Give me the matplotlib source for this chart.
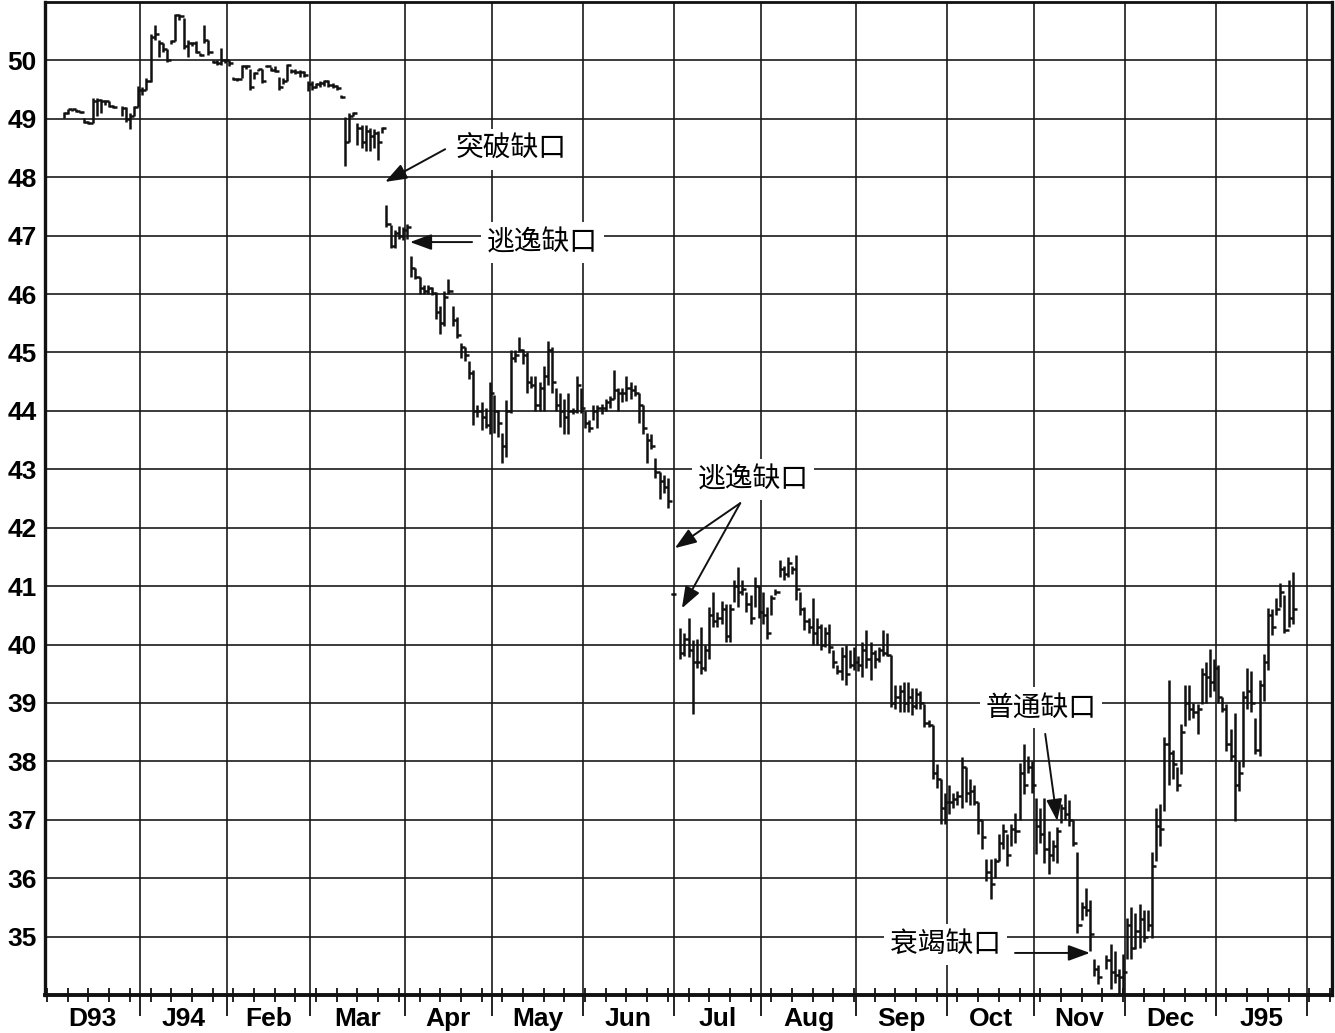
import matplotlib
matplotlib.use('Agg')
import matplotlib.pyplot as plt
import matplotlib.transforms as mtransforms
import numpy as np
import pandas as pd

plt.rcParams['font.family'] = ['Liberation Sans', 'DejaVu Sans']

# ---------------- data: daily (high, low, close) per weekday, None = no bar -------------
month_labels = ['D93', 'J94', 'Feb', 'Mar', 'Apr', 'May', 'Jun',
                'Jul', 'Aug', 'Sep', 'Oct', 'Nov', 'Dec', 'J95']
y_ticks = list(range(35, 51))

bars_dec93 = [None, None, None, None,
    (49.12, 49.02, 49.10), (49.17, 49.08, 49.16), (49.17, 49.14, 49.16), (49.17, 49.12, 49.13),
    (49.14, 49.10, 49.12), (49.02, 48.92, 48.94), (48.96, 48.91, 48.93), (49.35, 48.93, 49.30),
    (49.36, 49.05, 49.32), (49.34, 49.10, 49.30), (49.33, 49.24, 49.30), (49.30, 49.20, 49.22),
    (49.24, 49.18, 49.20), None, (49.22, 49.05, 49.18), (49.20, 48.95, 49.00),
    (49.10, 48.83, 49.05), (49.22, 49.05, 49.20), (49.57, 49.20, 49.50)]
bars_jan94 = [
    (49.55, 49.40, 49.50), (49.70, 49.50, 49.65), (50.46, 49.63, 50.40), (50.60, 50.35, 50.45),
    (50.35, 50.05, 50.30), (50.30, 50.15, 50.20), (50.20, 49.98, 50.00), (50.35, 50.28, 50.33),
    (50.80, 50.34, 50.78), (50.80, 50.70, 50.76), (50.72, 50.20, 50.25), (50.35, 50.05, 50.30),
    (50.32, 50.25, 50.30), (50.34, 50.12, 50.14), (50.12, 50.08, 50.10), (50.60, 50.30, 50.35),
    (50.35, 50.10, 50.15), (50.00, 49.95, 49.98), (50.00, 49.92, 49.95), (50.22, 49.92, 50.00),
    (50.02, 49.95, 50.00)]
bars_feb94 = [
    (50.00, 49.90, 49.95), (49.72, 49.66, 49.68), (49.70, 49.64, 49.68), (49.93, 49.70, 49.90),
    (49.92, 49.85, 49.90), (49.85, 49.50, 49.55), (49.80, 49.68, 49.78), (49.86, 49.82, 49.85),
    (49.85, 49.62, 49.65), (49.93, 49.88, 49.90), (49.88, 49.82, 49.84), (49.90, 49.80, 49.82),
    (49.72, 49.50, 49.55), (49.70, 49.60, 49.65), (49.94, 49.65, 49.92), (49.86, 49.78, 49.82),
    (49.85, 49.76, 49.80), (49.84, 49.72, 49.80), (49.82, 49.72, 49.75), (49.65, 49.48, 49.60)]
bars_mar94 = [
    (49.65, 49.50, 49.55), (49.62, 49.52, 49.60), (49.65, 49.55, 49.62), (49.66, 49.56, 49.64),
    (49.66, 49.55, 49.58), (49.62, 49.52, 49.56), (49.58, 49.50, 49.52), (49.40, 49.36, 49.38),
    (49.03, 48.19, 48.60), (49.10, 48.60, 49.05), (49.12, 49.05, 49.10), (48.92, 48.55, 48.85),
    (48.90, 48.50, 48.60), (48.90, 48.45, 48.80), (48.85, 48.45, 48.70), (48.82, 48.50, 48.75),
    (48.80, 48.30, 48.60), (48.86, 48.75, 48.85), (47.52, 47.15, 47.20), (47.18, 46.78, 46.82),
    (47.10, 46.78, 47.05), (47.16, 46.95, 47.00), (47.15, 46.92, 47.10)]
bars_apr94 = [
    (47.20, 46.94, 47.15), (46.65, 46.30, 46.45), (46.45, 46.25, 46.30), (46.30, 46.00, 46.10),
    (46.15, 46.00, 46.05), (46.15, 46.00, 46.10), (46.12, 45.98, 46.02), (46.03, 45.57, 45.70),
    (45.80, 45.31, 45.50), (46.05, 45.45, 45.95), (46.25, 46.00, 46.05), (45.80, 45.45, 45.55),
    (45.60, 45.25, 45.30), (45.17, 44.90, 45.10), (45.10, 44.85, 44.95), (44.85, 44.55, 44.65),
    (44.70, 43.76, 44.00), (44.10, 43.90, 44.00), (44.15, 43.68, 43.90), (44.05, 43.70, 43.75),
    (44.50, 43.60, 44.30)]
bars_may94 = [
    (44.28, 43.62, 44.00), (44.02, 43.55, 43.80), (43.62, 43.10, 43.40), (44.19, 43.21, 44.00),
    (45.05, 43.97, 44.90), (45.05, 44.83, 44.95), (45.27, 45.00, 45.05), (45.06, 44.80, 44.95),
    (45.00, 44.31, 44.50), (44.60, 44.40, 44.45), (44.60, 44.00, 44.10), (44.50, 44.00, 44.40),
    (44.76, 44.00, 44.60), (45.20, 44.45, 45.05), (45.10, 44.30, 44.50), (44.40, 44.00, 44.10),
    (44.31, 43.73, 44.00), (44.20, 43.60, 43.90), (44.31, 43.60, 44.00), (44.05, 43.95, 44.00),
    (44.60, 43.97, 44.45), (44.40, 43.97, 44.05)]
bars_jun94 = [
    (44.00, 43.70, 43.80), (43.85, 43.63, 43.70), (44.10, 43.85, 44.00), (44.10, 43.70, 44.05),
    (44.12, 43.95, 44.05), (44.20, 44.00, 44.15), (44.25, 44.05, 44.20), (44.70, 44.20, 44.35),
    (44.40, 44.00, 44.30), (44.40, 44.15, 44.30), (44.60, 44.17, 44.40), (44.50, 44.20, 44.35),
    (44.45, 44.25, 44.30), (44.30, 43.80, 44.10), (44.10, 43.60, 43.70), (43.62, 43.10, 43.50),
    (43.60, 43.35, 43.40), (43.20, 42.85, 42.95), (42.95, 42.50, 42.80), (42.90, 42.60, 42.70),
    (42.85, 42.33, 42.45), (40.88, 40.84, 40.86)]
bars_jul94 = [None,
    (40.29, 39.76, 39.85), (40.20, 39.80, 40.10), (40.45, 39.78, 39.90), (40.07, 38.81, 39.70),
    (40.10, 39.60, 39.70), (40.30, 39.50, 39.60), (40.00, 39.55, 39.90), (40.64, 39.75, 40.50),
    (40.90, 40.30, 40.40), (40.55, 40.30, 40.45), (40.75, 40.35, 40.60), (40.70, 40.05, 40.15),
    (40.70, 40.05, 40.60), (41.10, 40.73, 41.00), (41.33, 40.64, 40.90), (41.10, 40.85, 40.95),
    (40.90, 40.55, 40.70), (40.85, 40.35, 40.45), (41.15, 40.65, 41.00), (41.00, 40.45, 40.55)]
bars_aug94 = [
    (40.90, 40.35, 40.50), (40.64, 40.10, 40.20), (40.85, 40.50, 40.80), (40.95, 40.85, 40.90),
    (41.45, 41.15, 41.30), (41.35, 41.10, 41.20), (41.50, 41.15, 41.40), (41.35, 41.20, 41.30),
    (41.53, 40.76, 40.95), (40.90, 40.50, 40.60), (40.64, 40.25, 40.40), (40.45, 40.20, 40.30),
    (40.80, 40.00, 40.20), (40.45, 40.00, 40.30), (40.35, 39.90, 40.00), (40.30, 39.95, 40.20),
    (40.35, 39.85, 39.95), (39.90, 39.60, 39.70), (39.65, 39.50, 39.55), (39.95, 39.40, 39.80),
    (40.00, 39.30, 39.50), (39.90, 39.60, 39.65), (39.95, 39.56, 39.70)]
bars_sep94 = [
    (39.80, 39.55, 39.65), (40.05, 39.45, 39.90), (40.25, 39.60, 39.75), (40.05, 39.40, 39.85),
    (39.90, 39.60, 39.75), (39.95, 39.70, 39.90), (40.25, 39.80, 39.85), (40.20, 39.80, 39.82),
    (39.82, 38.93, 39.00), (39.30, 38.90, 39.10), (39.30, 38.85, 39.20), (39.35, 38.85, 39.00),
    (39.35, 38.85, 39.10), (39.25, 38.80, 38.95), (39.25, 38.90, 39.15), (39.20, 38.90, 39.00),
    (38.99, 38.58, 38.65), (38.70, 38.58, 38.62), (38.62, 37.70, 37.80), (37.95, 37.55, 37.70),
    (37.70, 36.93, 37.20), (37.45, 36.93, 37.30)]
bars_oct94 = [
    (37.60, 37.10, 37.30), (37.45, 37.20, 37.35), (37.50, 37.25, 37.40), (38.07, 37.20, 37.90),
    (37.90, 37.30, 37.45), (37.70, 37.25, 37.50), (37.60, 37.25, 37.30), (37.30, 36.76, 37.00),
    (37.00, 36.50, 36.70), (36.32, 35.95, 36.10), (36.32, 35.65, 35.90), (36.35, 36.00, 36.30),
    (36.76, 36.30, 36.60), (36.93, 36.50, 36.80), (36.75, 36.20, 36.40), (36.93, 36.55, 36.85),
    (37.12, 36.60, 36.80), (37.97, 37.00, 37.80), (38.30, 37.44, 37.60), (38.10, 37.80, 37.90),
    (38.00, 37.45, 37.60)]
bars_nov94 = [
    (37.38, 36.42, 36.90), (37.20, 36.60, 36.75), (37.38, 36.26, 36.50), (36.81, 36.07, 36.40),
    (36.65, 36.30, 36.55), (36.88, 36.26, 36.80), (37.27, 36.95, 37.20), (37.44, 37.00, 37.10),
    (37.33, 36.90, 37.00), (37.00, 36.55, 36.60), (36.44, 35.06, 35.20), (35.60, 35.28, 35.50),
    (35.84, 35.35, 35.45), (35.62, 34.76, 35.05), (34.61, 34.32, 34.45), (34.52, 34.18, 34.30),
    None, (34.68, 34.45, 34.60), (34.87, 34.10, 34.40), (34.75, 34.20, 34.35),
    (34.45, 34.02, 34.30), (34.70, 34.00, 34.40)]
bars_dec94 = [
    (35.32, 34.62, 35.20), (35.50, 34.62, 34.80), (35.40, 34.78, 35.10), (35.55, 34.80, 35.30),
    (35.45, 34.90, 35.00), (35.45, 35.10, 35.20), (36.44, 34.98, 36.20), (37.20, 36.30, 36.90),
    (37.27, 36.55, 36.85), (38.41, 37.15, 38.30), (39.39, 37.60, 38.15), (38.20, 37.70, 37.95),
    (37.90, 37.50, 37.60), (38.64, 37.79, 38.50), (39.30, 38.60, 39.00), (39.30, 38.70, 38.90),
    (39.00, 38.75, 38.85), (38.99, 38.47, 38.90), (39.59, 38.99, 39.50), (39.70, 39.00, 39.45),
    (39.93, 39.10, 39.35), (39.75, 39.20, 39.60)]
bars_jan95 = [
    (39.65, 39.00, 39.10), (39.10, 38.85, 38.90), (38.99, 38.18, 38.30), (38.55, 38.00, 38.10),
    (38.82, 36.98, 37.60), (38.00, 37.50, 37.80), (39.21, 37.90, 39.10), (39.60, 38.90, 39.20),
    (39.55, 38.85, 39.00), (38.74, 38.13, 38.20), (39.39, 38.10, 39.30), (39.84, 39.04, 39.70),
    (40.62, 39.56, 40.50), (40.60, 40.17, 40.30), (40.80, 40.50, 40.60), (41.05, 40.64, 40.90),
    (40.85, 40.19, 40.25), (41.10, 40.30, 40.45), (41.24, 40.36, 40.60), None, None, None]

monthly_bars = [bars_dec93, bars_jan94, bars_feb94, bars_mar94, bars_apr94, bars_may94,
                bars_jun94, bars_jul94, bars_aug94, bars_sep94, bars_oct94, bars_nov94,
                bars_dec94, bars_jan95]

gap_labels = ['突破缺口', '逃逸缺口', '逃逸缺口', '普通缺口', '衰竭缺口']

# ---------------- calendar (weekday axis) ----------------
days = pd.bdate_range('1993-12-01', '1995-02-08')
n_days = len(days)
month_start = [i for i in range(n_days) if i == 0 or days[i].month != days[i - 1].month]

xs, highs, lows, closes = [], [], [], []
for k, mbars in enumerate(monthly_bars):
    for j, b in enumerate(mbars):
        if b is None:
            continue
        xs.append(month_start[k] + j + 0.5)
        highs.append(b[0]); lows.append(b[1]); closes.append(b[2])
xs = np.array(xs)

# ---------------- figure ----------------
W, H = 1335, 1033
fig = plt.figure(figsize=(W / 100, H / 100), dpi=100)
ax = fig.add_axes([45 / W, 38 / H, 1287 / W, 993 / H])
ax.set_xlim(0, n_days)
ax.set_ylim(34, 51)

ax.set_xticks(month_start[1:])
ax.set_xticklabels([])
ax.set_xticks(np.arange(0.5, n_days, 5), minor=True)
ax.set_yticks(y_ticks)
ax.set_yticklabels([str(v) for v in y_ticks], fontsize=19, fontweight='bold')
ax.grid(True, which='major', color='#1a1a1a', lw=1.2, zorder=0)
ax.set_axisbelow(True)
ax.tick_params(axis='y', length=0, pad=6)
ax.tick_params(axis='x', which='major', direction='out', length=15, width=1.3, color='#111111')
ax.tick_params(axis='x', which='minor', direction='inout', length=10, width=1.3, color='#111111')
for side, lw in (('left', 2.4), ('bottom', 2.8), ('top', 2.0), ('right', 2.4)):
    ax.spines[side].set_linewidth(lw)
    ax.spines[side].set_color('#111111')

# month labels
trans = mtransforms.blended_transform_factory(ax.transData, ax.transAxes)
bounds = month_start[:len(month_labels)] + [month_start[len(month_labels)]]
for k, lab in enumerate(month_labels):
    ax.text((bounds[k] + bounds[k + 1]) / 2, -0.024, lab, transform=trans,
            ha='center', va='center', fontsize=19, fontweight='bold')

# HLC bars
ax.vlines(xs, lows, highs, color='#111111', lw=1.8, zorder=3)
ax.hlines(closes, xs, xs + 1.0, color='#111111', lw=1.8, zorder=3)

# annotations
cjk = ['Noto Sans CJK SC', 'DejaVu Sans']
tbox = dict(facecolor='white', edgecolor='none', pad=4)
aprops = dict(arrowstyle='-|>,head_length=0.6,head_width=0.22', color='#111111', lw=1.4,
              mutation_scale=22, shrinkA=0, shrinkB=0)
text_pos = [(99.1, 48.48), (106.8, 46.89), (157.6, 42.82), (227.2, 38.92), (204.2, 34.87)]
arrows = [[((96.7, 48.48), (82.2, 47.92))],
          [((103.2, 46.89), (88.2, 46.89))],
          [((168.0, 42.42), (152.2, 41.65)), ((168.0, 42.42), (153.9, 40.62))],
          [((241.7, 38.47), (244.6, 36.98))],
          [((234.4, 34.72), (252.5, 34.72))]]
for lab, (tx, ty), arrs in zip(gap_labels, text_pos, arrows):
    ax.text(tx, ty, lab, family=cjk, fontsize=20, ha='left', va='center',
            bbox=tbox, zorder=5)
    for tail, head in arrs:
        ax.annotate('', xy=head, xytext=tail, arrowprops=aprops, zorder=6)

fig.savefig('out.png', dpi=100)
